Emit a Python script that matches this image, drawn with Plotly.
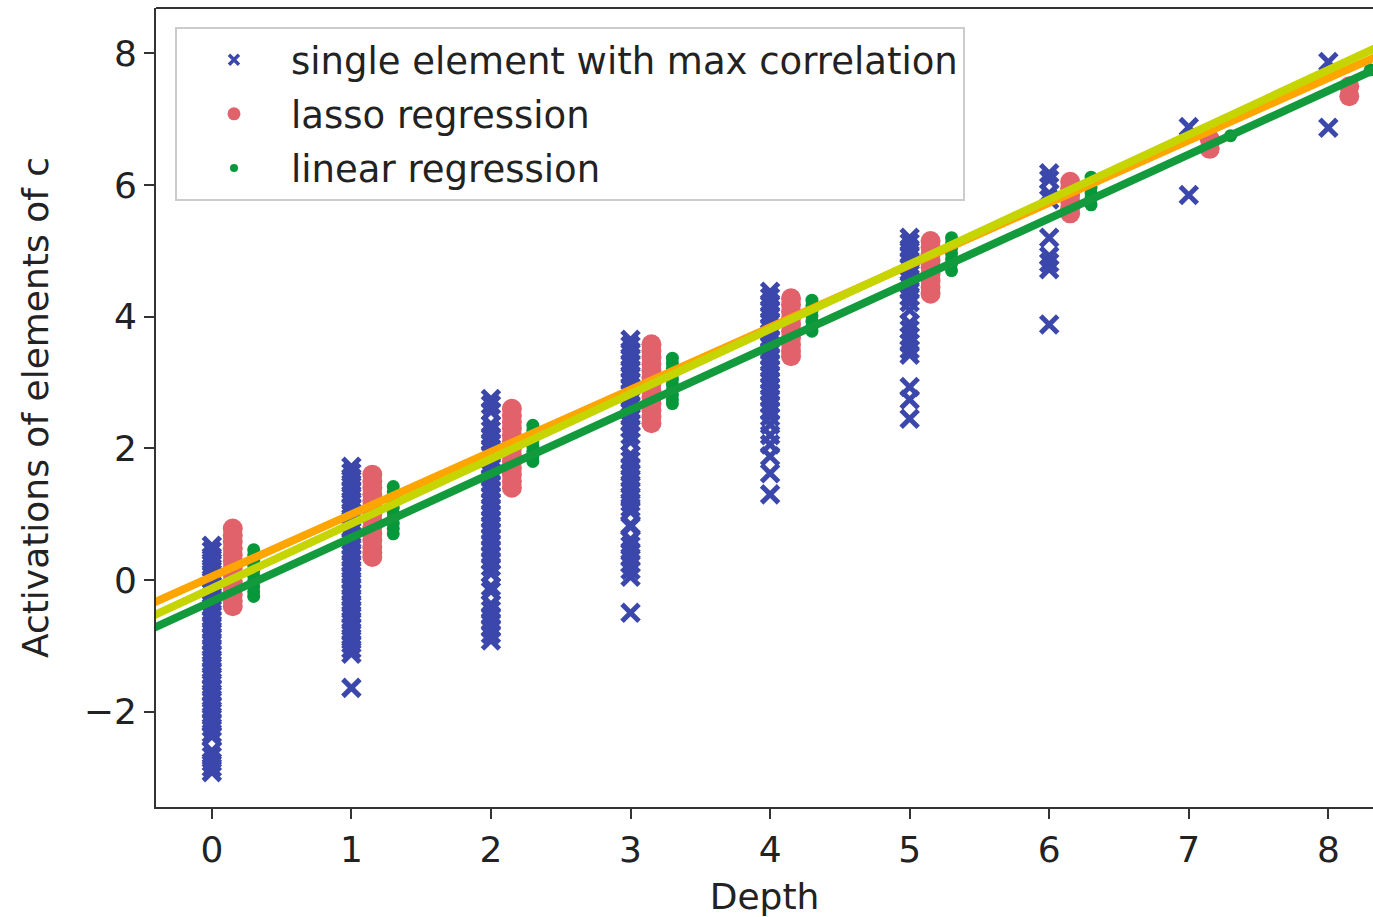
import plotly.graph_objects as go

# ---------------- data ----------------
depths = [0, 1, 2, 3, 4, 5, 6, 7, 8]

# single element with max correlation (blue x), one list per depth
single_max_corr = [
    [0.52, 0.44, 0.35, 0.27, 0.18, 0.10, 0.01, -0.08, -0.17, -0.25, -0.34, -0.42, -0.51, -0.60,
     -0.68, -0.77, -0.86, -0.94, -1.03, -1.12, -1.20, -1.29, -1.38, -1.46, -1.55, -1.64, -1.72,
     -1.81, -1.90, -1.98, -2.07, -2.16, -2.24, -2.33, -2.38, -2.60, -2.68, -2.77, -2.85, -2.92],
    [1.72, 1.63, 1.55, 1.46, 1.37, 1.29, 1.20, 1.11, 1.03, 0.94, 0.85, 0.77, 0.68, 0.59, 0.51,
     0.42, 0.33, 0.25, 0.16, 0.07, -0.01, -0.10, -0.19, -0.27, -0.36, -0.45, -0.53, -0.62,
     -0.71, -0.79, -0.88, -0.97, -1.05, -1.12, -1.64],
    [2.75, 2.66, 2.56, 2.36, 2.27, 2.18, 2.09, 2.00, 1.91, 1.82, 1.73, 1.64, 1.55, 1.46, 1.37,
     1.28, 1.19, 1.10, 1.01, 0.92, 0.83, 0.74, 0.65, 0.56, 0.47, 0.38, 0.29, 0.20, 0.10, -0.10,
     -0.17, -0.37, -0.46, -0.55, -0.64, -0.73, -0.82, -0.92],
    [3.65, 3.56, 3.47, 3.38, 3.29, 3.20, 3.11, 3.02, 2.93, 2.84, 2.75, 2.66, 2.57, 2.48, 2.39,
     2.30, 2.20, 2.10, 1.90, 1.81, 1.72, 1.63, 1.54, 1.45, 1.36, 1.27, 1.18, 1.10, 1.04, 0.84,
     0.81, 0.61, 0.52, 0.43, 0.34, 0.25, 0.15, 0.05, -0.50],
    [4.38, 4.29, 4.20, 4.11, 4.02, 3.93, 3.84, 3.75, 3.66, 3.57, 3.48, 3.39, 3.30, 3.21, 3.12,
     3.03, 2.94, 2.85, 2.76, 2.67, 2.58, 2.48, 2.36, 2.20, 2.06, 1.88, 1.62, 1.30],
    [5.20, 5.12, 5.03, 4.94, 4.85, 4.76, 4.67, 4.58, 4.49, 4.40, 4.31, 4.22, 4.10, 3.90, 3.80,
     3.70, 3.60, 3.50, 3.42, 2.93, 2.74, 2.45],
    [6.18, 6.08, 5.87, 5.78, 5.20, 4.92, 4.82, 4.72, 3.88],
    [6.88, 5.85],
    [7.87, 6.87],
]

# lasso regression (red circles), one list per depth
lasso = [
    [0.78, 0.68, 0.58, 0.48, 0.38, 0.28, 0.18, 0.08, -0.02, -0.12, -0.22, -0.32, -0.40],
    [1.60, 1.50, 1.40, 1.30, 1.20, 1.10, 1.00, 0.90, 0.80, 0.70, 0.60, 0.50, 0.42, 0.35],
    [2.60, 2.50, 2.40, 2.30, 2.20, 2.10, 2.00, 1.90, 1.80, 1.70, 1.60, 1.50, 1.40],
    [3.58, 3.48, 3.38, 3.28, 3.18, 3.08, 2.98, 2.88, 2.78, 2.68, 2.58, 2.48, 2.38],
    [4.28, 4.18, 4.08, 3.98, 3.88, 3.78, 3.68, 3.58, 3.48, 3.40],
    [5.15, 5.05, 4.95, 4.85, 4.75, 4.65, 4.55, 4.45, 4.35],
    [6.05, 5.95, 5.85, 5.75, 5.65, 5.57],
    [6.70, 6.55],
    [7.50, 7.35],
]

# linear regression (green dots), one list per depth
linear = [
    [0.46, 0.38, 0.30, 0.22, 0.14, 0.06, -0.02, -0.10, -0.18, -0.25],
    [1.42, 1.34, 1.26, 1.18, 1.10, 1.02, 0.94, 0.86, 0.78, 0.70],
    [2.35, 2.27, 2.19, 2.11, 2.03, 1.95, 1.87, 1.80],
    [3.37, 3.29, 3.21, 3.13, 3.05, 2.97, 2.89, 2.81, 2.74, 2.68],
    [4.25, 4.17, 4.09, 4.01, 3.93, 3.85, 3.78],
    [5.20, 5.12, 5.04, 4.96, 4.88, 4.80, 4.70],
    [6.12, 6.04, 5.96, 5.88, 5.80, 5.70],
    [6.75],
    [7.75],
]

# horizontal shift of each method relative to the depth
shift_single, shift_lasso, shift_linear = 0.0, 0.15, 0.30

# fitted lines: intercept, slope
fit_names = ["orange fit", "yellow fit", "green fit"]
fit_intercepts = [0.05, -0.13, -0.326]
fit_slopes = [0.947, 0.985, 0.970]
fit_colors = ["#ffa500", "#c6d400", "#129a3c"]

x_ticks = [0, 1, 2, 3, 4, 5, 6, 7, 8]
y_ticks = [-2, 0, 2, 4, 6, 8]

# ---------------- build figure ----------------
BLUE = "#3b47ab"
RED = "#e1626b"
GREEN = "#07983b"
FONT = "DejaVu Sans"


def flatten(groups, shift):
    xs, ys = [], []
    for d, vals in zip(depths, groups):
        for v in vals:
            xs.append(d + shift)
            ys.append(v)
    return xs, ys


fig = go.Figure()

bx, by = flatten(single_max_corr, shift_single)
fig.add_trace(go.Scatter(x=bx, y=by, mode="markers", showlegend=False,
                         marker=dict(symbol="x-thin", size=17, color=BLUE,
                                     line=dict(color=BLUE, width=5))))
rx, ry = flatten(lasso, shift_lasso)
fig.add_trace(go.Scatter(x=rx, y=ry, mode="markers", showlegend=False,
                         marker=dict(symbol="circle", size=20, color=RED, line=dict(width=0))))
gx, gy = flatten(linear, shift_linear)
fig.add_trace(go.Scatter(x=gx, y=gy, mode="markers", showlegend=False,
                         marker=dict(symbol="circle", size=13, color=GREEN, line=dict(width=0))))

x_line = [-1, 9]
for name, a, b, c in zip(fit_names, fit_intercepts, fit_slopes, fit_colors):
    fig.add_trace(go.Scatter(x=x_line, y=[a + b * xv for xv in x_line], mode="lines",
                             name=name, showlegend=False,
                             line=dict(color=c, width=8)))

# legend entries
legend_names = ["single element with max correlation", "lasso regression", "linear regression"]
fig.add_trace(go.Scatter(x=[None], y=[None], mode="markers", name=legend_names[0],
                         legendgroup="a",
                         marker=dict(symbol="x-thin", size=10, color=BLUE,
                                     line=dict(color=BLUE, width=3.5))))
fig.add_trace(go.Scatter(x=[None], y=[None], mode="markers", name=legend_names[1],
                         legendgroup="b",
                         marker=dict(symbol="circle", size=13, color=RED, line=dict(width=0))))
fig.add_trace(go.Scatter(x=[None], y=[None], mode="markers", name=legend_names[2],
                         legendgroup="c",
                         marker=dict(symbol="circle", size=8, color=GREEN, line=dict(width=0))))

axis_common = dict(showgrid=False, zeroline=False, showline=True, linecolor="#333333",
                   linewidth=2, ticks="outside", ticklen=10, tickwidth=2, tickcolor="#333333",
                   tickfont=dict(family=FONT, size=36, color="#222222"))

fig.update_layout(
    width=1373, height=917, autosize=False,
    margin=dict(l=156, r=0, t=8, b=110),
    paper_bgcolor="white", plot_bgcolor="white",
    font=dict(family=FONT, size=36, color="#222222"),
    xaxis=dict(range=[-0.4, 8.32], tickvals=x_ticks,
               title=dict(text="Depth", font=dict(family=FONT, size=36, color="#222222"),
                          standoff=16),
               **axis_common),
    yaxis=dict(range=[-3.45, 8.69], tickvals=y_ticks,
               title=dict(text="Activations of elements of c",
                          font=dict(family=FONT, size=36, color="#222222"), standoff=24),
               **axis_common),
    legend=dict(x=0.0156, y=0.976, xanchor="left", yanchor="top",
                bgcolor="rgba(255,255,255,0.85)", bordercolor="#cccccc", borderwidth=2,
                font=dict(family=FONT, size=37, color="#222222"),
                itemwidth=104, tracegroupgap=3, traceorder="grouped"),
    shapes=[dict(type="line", xref="paper", yref="paper", x0=0, x1=1, y0=1, y1=1,
                 line=dict(color="#333333", width=2))],
)

fig.write_html("out.html")
